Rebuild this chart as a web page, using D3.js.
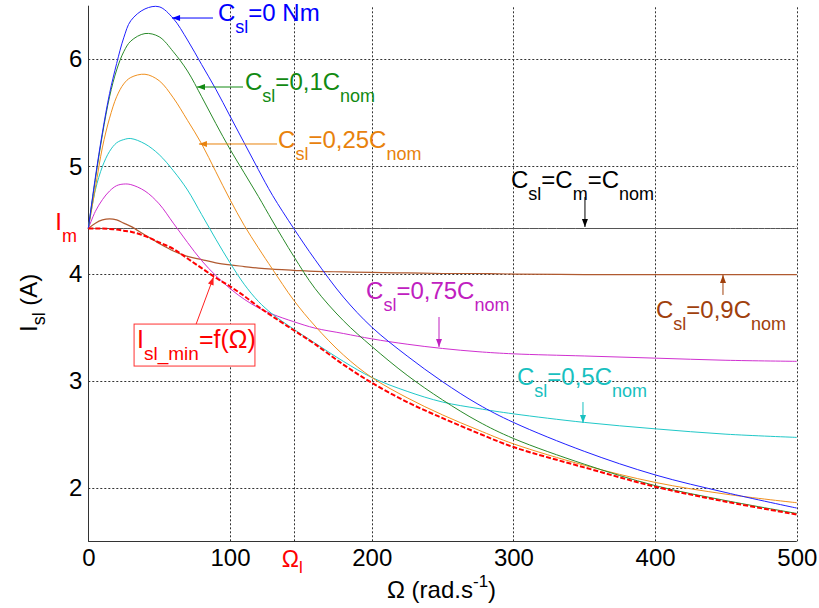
<!DOCTYPE html>
<html><head><meta charset="utf-8">
<script src="https://cdn.jsdelivr.net/npm/d3@7"></script>
<style>body{margin:0;background:#fff} svg{display:block} text{font-family:"Liberation Sans",Arial,sans-serif}</style>
</head><body><svg id="c" width="819" height="608"></svg>
<script>
// ---------- data ----------
const omega   = [0,5,10,15,20,25,30,40,50,60,70,80,90,100,110,120,130,145,160,180,200,225,250,275,300,350,400,450,500];
const iCsl0   = [4.42,4.90,5.32,5.68,5.96,6.20,6.36,6.47,6.49,6.38,6.18,5.95,5.72,5.47,5.22,4.97,4.73,4.42,4.13,3.78,3.50,3.23,2.99,2.78,2.61,2.34,2.12,1.955,1.81];
const iCsl01  = [4.42,4.88,5.30,5.65,5.90,6.07,6.17,6.24,6.21,6.07,5.89,5.65,5.40,5.16,4.94,4.72,4.49,4.16,3.86,3.56,3.32,3.05,2.82,2.62,2.46,2.22,2.02,1.88,1.76];
const iCsl025 = [4.42,4.80,5.18,5.45,5.65,5.77,5.83,5.86,5.80,5.64,5.43,5.21,4.95,4.69,4.45,4.24,4.04,3.75,3.51,3.24,3.03,2.84,2.68,2.54,2.41,2.21,2.05,1.94,1.86];
const iCsl05  = [4.42,4.78,5.00,5.14,5.22,5.25,5.26,5.21,5.11,4.96,4.78,4.55,4.32,4.10,3.90,3.74,3.62,3.48,3.35,3.18,3.03,2.90,2.80,2.74,2.69,2.61,2.55,2.50,2.47];
const iCsl075 = [4.42,4.58,4.69,4.77,4.82,4.835,4.83,4.77,4.65,4.47,4.29,4.12,3.98,3.86,3.76,3.68,3.62,3.55,3.49,3.44,3.39,3.34,3.30,3.27,3.25,3.23,3.21,3.19,3.18];
const iCsl09  = [4.42,4.47,4.50,4.51,4.50,4.47,4.44,4.36,4.28,4.21,4.16,4.13,4.10,4.08,4.065,4.05,4.04,4.03,4.02,4.015,4.01,4.005,4.0,4.0,3.995,3.99,3.99,3.99,3.99];
const iCslNom = [4.42,4.42,4.42,4.42,4.42,4.42,4.42,4.42,4.42,4.42,4.42,4.42,4.42,4.42,4.42,4.42,4.42,4.42,4.42,4.42,4.42,4.42,4.42,4.42,4.42,4.42,4.42,4.42,4.42];
const iSlMin  = [4.42,4.42,4.42,4.415,4.41,4.40,4.39,4.35,4.29,4.23,4.14,4.05,3.96,3.88,3.79,3.69,3.60,3.47,3.34,3.15,2.98,2.80,2.65,2.51,2.38,2.19,2.01,1.87,1.75];
const xTicks = [0,100,200,300,400,500];
const yTicks = [2,3,4,5,6];
const omegaL = 145;
const iM = 4.42;

// ---------- setup ----------
const svg = d3.select("#c");
const x = d3.scaleLinear().domain([0,500]).range([88.3,796.8]);
const y = d3.scaleLinear().domain([1.5,6.5]).range([541.3,5.7]);
const X0 = x(0), X1 = x(500), Y0 = y(1.5), Y1 = y(6.5);
const crisp = v => Math.round(v) + 0.5;

// grid
const grid = svg.append("g").attr("stroke","#333").attr("stroke-width",1).attr("stroke-dasharray","2,2");
grid.selectAll("line.h").data(yTicks).join("line")
  .attr("x1",X0).attr("x2",X1).attr("y1",d=>crisp(y(d))).attr("y2",d=>crisp(y(d)));
grid.selectAll("line.v").data(xTicks.slice(1).concat([omegaL])).join("line")
  .attr("y1",Y0).attr("y2",Y1).attr("x1",d=>crisp(x(d))).attr("x2",d=>crisp(x(d)));

// axes
const xAxis = svg.append("g").attr("transform",`translate(0,${Y0})`)
  .call(d3.axisBottom(x).tickValues(xTicks).tickFormat(d3.format("d")).tickSize(0).tickPadding(8));
const yAxis = svg.append("g").attr("transform",`translate(${X0},0)`)
  .call(d3.axisLeft(y).tickValues(yTicks).tickFormat(d3.format("d")).tickSize(0).tickPadding(6));
[xAxis,yAxis].forEach(a=>{
  a.select(".domain").remove();
  a.selectAll("text").attr("fill","#000").style("font-size","24px").style("font-family","'Liberation Sans',Arial,sans-serif");
});
xAxis.selectAll("text").attr("dy","0.71em");
svg.append("line").attr("x1",crisp(X0)).attr("x2",crisp(X0)).attr("y1",Y1).attr("y2",Y0+0.5).attr("stroke","#333");
svg.append("line").attr("x1",X0).attr("x2",X1).attr("y1",crisp(Y0)).attr("y2",crisp(Y0)).attr("stroke","#333");

// curves
const series = [
  {v:iCslNom, c:"#555555", w:1},
  {v:iCsl09,  c:"#b05a30", w:1.2},
  {v:iCsl075, c:"#d030d0", w:1},
  {v:iCsl05,  c:"#20c8c8", w:1},
  {v:iCsl025, c:"#f0901e", w:1},
  {v:iCsl01,  c:"#2a8a2a", w:1},
  {v:iCsl0,   c:"#2020ff", w:1},
  {v:iSlMin,  c:"#ff0000", w:2, dash:"5,2"}
];
const line = d3.line().x((d,i)=>x(omega[i])).y(d=>y(d)).curve(d3.curveCatmullRom.alpha(0.5));
svg.append("g").selectAll("path").data(series).join("path")
  .attr("d",d=>line(d.v)).attr("fill","none")
  .attr("stroke",d=>d.c).attr("stroke-width",d=>d.w)
  .attr("stroke-dasharray",d=>d.dash||null);

// ---------- annotations ----------
function rich(g, px, py, parts, color, F=24, S=18, shift=12, rotate=false){
  const t = g.append("text").attr("x",px).attr("y",py).attr("fill",color).style("font-size",F+"px");
  if(rotate) t.attr("transform",`rotate(-90,${px},${py})`);
  let cur = 0;
  parts.forEach(([s,mode])=>{
    const off = mode===1 ? shift : mode===2 ? -shift : 0;
    t.append("tspan").attr("dy",off-cur).style("font-size",(mode?S:F)+"px").text(s);
    cur = off;
  });
  return t;
}
function arrow(g, x1,y1,x2,y2,color){
  g.append("line").attr("x1",x1).attr("y1",y1).attr("x2",x2).attr("y2",y2).attr("stroke",color).attr("stroke-width",1);
  const a = Math.atan2(y2-y1,x2-x1), L=8, Wd=3;
  const bx = x2-L*Math.cos(a), by = y2-L*Math.sin(a);
  const p = [[x2,y2],[bx+Wd*Math.sin(a),by-Wd*Math.cos(a)],[bx-Wd*Math.sin(a),by+Wd*Math.cos(a)]];
  g.append("path").attr("d","M"+p.join("L")+"Z").attr("fill",color);
}
const ann = svg.append("g");
const notes = [
  {t:[["C",0],["sl",1],["=0 Nm",0]], c:"#0000ff", tx:91.5, ty:6.357, a:[88.0,6.385,59.1,6.385]},
  {t:[["C",0],["sl",1],["=0,1C",0],["nom",1]], c:"#128a12", tx:110.6, ty:5.713, a:[109.2,5.741,76.7,5.741]},
  {t:[["C",0],["sl",1],["=0,25C",0],["nom",1]], c:"#e8820c", tx:133.9, ty:5.172, a:[133.2,5.209,78.1,5.209]},
  {t:[["C",0],["sl",1],["=C",0],["m",1],["=C",0],["nom",1]], c:"#000000", tx:298.3, ty:4.798, a:[350.5,4.714,350.5,4.434]},
  {t:[["C",0],["sl",1],["=0,75C",0],["nom",1]], c:"#c020c0", tx:196, ty:3.762, a:[247.5,3.594,247.5,3.314]},
  {t:[["C",0],["sl",1],["=0,9C",0],["nom",1]], c:"#a0400c", tx:400.6, ty:3.584, a:[447.9,3.80,447.9,3.987]},
  {t:[["C",0],["sl",1],["=0,5C",0],["nom",1]], c:"#18c0c0", tx:302.5, ty:2.959, a:[349.1,2.80,349.1,2.605]}
];
notes.forEach(n=>{
  rich(ann, x(n.tx), y(n.ty), n.t, n.c);
  arrow(ann, x(n.a[0]), y(n.a[1]), x(n.a[2]), y(n.a[3]), n.c);
});
// red boxed label
ann.append("rect").attr("x",x(32.3)).attr("y",y(3.528)).attr("width",x(117.6)-x(32.3)).attr("height",y(3.136)-y(3.528))
  .attr("fill","#fff").attr("stroke","#ff3030").attr("stroke-width",1);
rich(ann, x(34.4), y(3.303), [["I",0],["sl_min",1],["=f(Ω)",0]], "#ff0000", 25, 19, 12);
arrow(ann, x(76.1), y(3.528), x(88.4), y(3.967), "#ff2020");

// I_m and Omega_l labels
rich(ann, X0-33, y(iM)+1.5, [["I",0],["m",1]], "#ff0000", 24, 18, 12);
rich(ann, x(omegaL)-12, Y0+26, [["Ω",0],["l",1]], "#ff0000", 23, 17, 6);

// axis titles
rich(svg, 387, 598, [["Ω (rad.s",0],["-1",2],[")",0]], "#000", 24, 17, 11);
rich(svg, 37, 332, [["I",0],["sl",1],[" (A)",0]], "#000", 24, 18, 8, true);
</script></body></html>
